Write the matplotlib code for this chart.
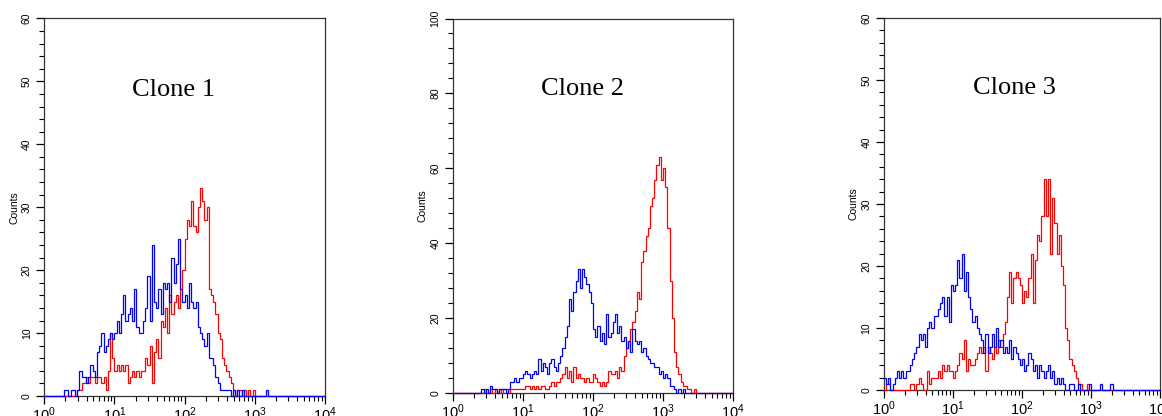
import numpy as np
import matplotlib
matplotlib.use("Agg")
import matplotlib.pyplot as plt
import matplotlib.ticker as mticker

# histogram channels: 32 per decade over 10^0 .. 10^4
CH_PER_DECADE = 32
N_CH = 128

titles = ["Clone 1", "Clone 2", "Clone 3"]
y_max = [60, 100, 60]
y_major = [10, 20, 10]
y_minor = [2, 4, 2]

# counts per channel, starting at the given channel index
clone1_blue_start = 9
clone1_blue = [1, 1, 0, 1, 1, 0, 1, 4, 3, 3, 2, 3, 5, 4, 3, 7, 8, 10, 7, 8,
               9, 10, 9, 10, 12, 10, 13, 16, 12, 13, 14, 12, 17, 11, 10, 10, 12, 14, 19, 12,
               24, 15, 14, 17, 13, 18, 17, 18, 15, 22, 18, 21, 25, 17, 15, 16, 14, 18, 15, 14,
               15, 11, 10, 9, 8, 10, 6, 6, 5, 3, 2, 1, 1, 1, 1, 1, 0, 1, 0, 1,
               0, 1, 0, 0, 0, 0, 0, 0, 0, 0, 0, 0, 1]
clone1_red_start = 15
clone1_red = [1, 1, 2, 2, 3, 2, 3, 3, 2, 3, 3, 2, 3, 1, 4, 10, 6, 4, 5, 4,
              5, 4, 5, 2, 3, 4, 3, 4, 3, 4, 4, 6, 5, 8, 2, 7, 9, 6, 12, 11,
              14, 10, 16, 13, 15, 16, 14, 17, 20, 25, 28, 27, 31, 27, 26, 30, 33, 31, 28, 30,
              17, 16, 15, 13, 10, 9, 6, 5, 4, 3, 2, 1, 0, 1, 1, 0, 1, 0, 1, 0, 1]

clone2_blue_start = 13
clone2_blue = [1, 0, 1, 0, 2, 1, 1, 0, 1, 1, 1, 0, 1, 3, 3, 4, 3, 4, 4, 5,
               6, 5, 4, 5, 6, 5, 9, 6, 8, 7, 5, 8, 9, 7, 6, 8, 10, 12, 15, 18,
               25, 22, 27, 30, 33, 28, 33, 31, 29, 27, 24, 17, 15, 18, 14, 16, 13, 21, 15, 16,
               19, 21, 16, 18, 14, 15, 12, 14, 11, 17, 14, 13, 14, 11, 12, 10, 9, 8, 8, 7,
               7, 5, 6, 4, 5, 4, 2, 2, 1, 0, 1, 0, 1]
clone2_red_start = 14
clone2_red = [1, 0, 0, 1, 0, 1, 0, 1, 0, 1, 1, 0, 1, 1, 1, 1, 1, 1, 1, 2,
              2, 1, 2, 1, 2, 1, 2, 2, 1, 1, 2, 3, 2, 3, 3, 4, 5, 7, 4, 6,
              3, 7, 4, 5, 4, 4, 3, 4, 3, 3, 5, 4, 3, 2, 3, 2, 3, 6, 5, 5,
              6, 4, 7, 6, 10, 12, 14, 17, 19, 22, 27, 25, 35, 38, 42, 44, 50, 52, 57, 61,
              63, 57, 60, 55, 44, 30, 20, 11, 7, 5, 3, 2, 2, 1, 1, 0, 1]

clone3_blue_start = 0
clone3_blue = [2, 1, 2, 0, 1, 2, 3, 2, 3, 2, 3, 3, 4, 5, 6, 7, 9, 8, 9, 7,
               10, 11, 10, 12, 12, 13, 14, 15, 12, 15, 11, 17, 16, 17, 21, 18, 22, 16, 19, 15,
               13, 11, 12, 10, 9, 8, 6, 9, 6, 7, 9, 7, 10, 7, 8, 6, 7, 6, 8, 5,
               7, 6, 5, 4, 5, 3, 4, 6, 5, 3, 4, 2, 4, 3, 2, 3, 4, 2, 3, 1,
               2, 1, 2, 1, 0, 0, 1, 1, 0, 0, 1, 0, 0, 0, 0, 1, 0, 0, 0, 0,
               1, 0, 0, 0, 0, 1]
clone3_red_start = 0
clone3_red = [0, 1, 1, 0, 0, 0, 0, 0, 0, 0, 0, 0, 1, 1, 0, 1, 2, 1, 0, 0,
              3, 1, 2, 2, 2, 3, 2, 4, 3, 4, 3, 3, 2, 3, 4, 6, 5, 8, 3, 5,
              4, 4, 5, 6, 7, 6, 7, 3, 7, 6, 5, 7, 6, 8, 7, 9, 11, 15, 19, 14,
              18, 19, 18, 17, 14, 16, 15, 18, 22, 14, 21, 25, 24, 28, 34, 28, 34, 22, 31, 27,
              22, 25, 20, 17, 10, 8, 5, 4, 3, 2, 1, 1, 0, 0, 1]

blue_series = [(clone1_blue_start, clone1_blue), (clone2_blue_start, clone2_blue),
               (clone3_blue_start, clone3_blue)]
red_series = [(clone1_red_start, clone1_red), (clone2_red_start, clone2_red),
              (clone3_red_start, clone3_red)]


def full_hist(start, vals):
    h = np.zeros(N_CH)
    h[start:start + len(vals)] = vals
    return h


edges = 10 ** (np.arange(N_CH + 1) / CH_PER_DECADE)

plt.rcParams['font.family'] = ['Liberation Sans', 'DejaVu Sans']
fig = plt.figure(figsize=(11.62, 4.16), dpi=100)

# axes boxes in pixels: left, right, top, bottom
boxes = [(44.3, 325, 18.5, 396), (453, 733, 18.5, 393), (884, 1160, 18, 390)]
title_x = [0.46, 0.461, 0.472]

for k in range(3):
    l, r, t, b = boxes[k]
    ax = fig.add_axes([l / 1162, 1 - b / 416, (r - l) / 1162, (b - t) / 416])
    ax.stairs(full_hist(*red_series[k]), edges, baseline=None, color='#ff0000',
              lw=0.9, zorder=3, clip_on=False)
    ax.stairs(full_hist(*blue_series[k]), edges, baseline=None, color='#0000ff',
              lw=0.9, zorder=4, clip_on=False)

    ax.set_xscale('log')
    ax.set_xlim(1, 1e4)
    ax.set_ylim(0, y_max[k])
    ax.xaxis.set_major_locator(mticker.LogLocator(base=10, numticks=10))
    ax.xaxis.set_minor_locator(mticker.LogLocator(base=10, subs=np.arange(2, 10), numticks=10))
    ax.xaxis.set_minor_formatter(mticker.NullFormatter())
    ax.yaxis.set_major_locator(mticker.MultipleLocator(y_major[k]))
    ax.yaxis.set_minor_locator(mticker.MultipleLocator(y_minor[k]))

    ax.tick_params(axis='both', which='major', direction='out', length=6, width=0.9,
                   colors='black')
    ax.tick_params(axis='both', which='minor', direction='out', length=3.5, width=0.8)
    ax.tick_params(axis='y', labelsize=7.5, labelrotation=90, pad=3)
    ax.tick_params(axis='x', labelsize=10.5, pad=1)
    for lab in ax.get_yticklabels():
        lab.set_va('center')

    for sp in ax.spines.values():
        sp.set_linewidth(0.9)
        sp.set_color('#333333')

    ax.set_ylabel('Counts', fontsize=7.5, labelpad=2)
    ax.text(title_x[k], 0.796, titles[k], transform=ax.transAxes, ha='center',
            va='baseline', fontsize=19, family=['Liberation Serif', 'DejaVu Serif'])

fig.savefig('out.png', dpi=100)
